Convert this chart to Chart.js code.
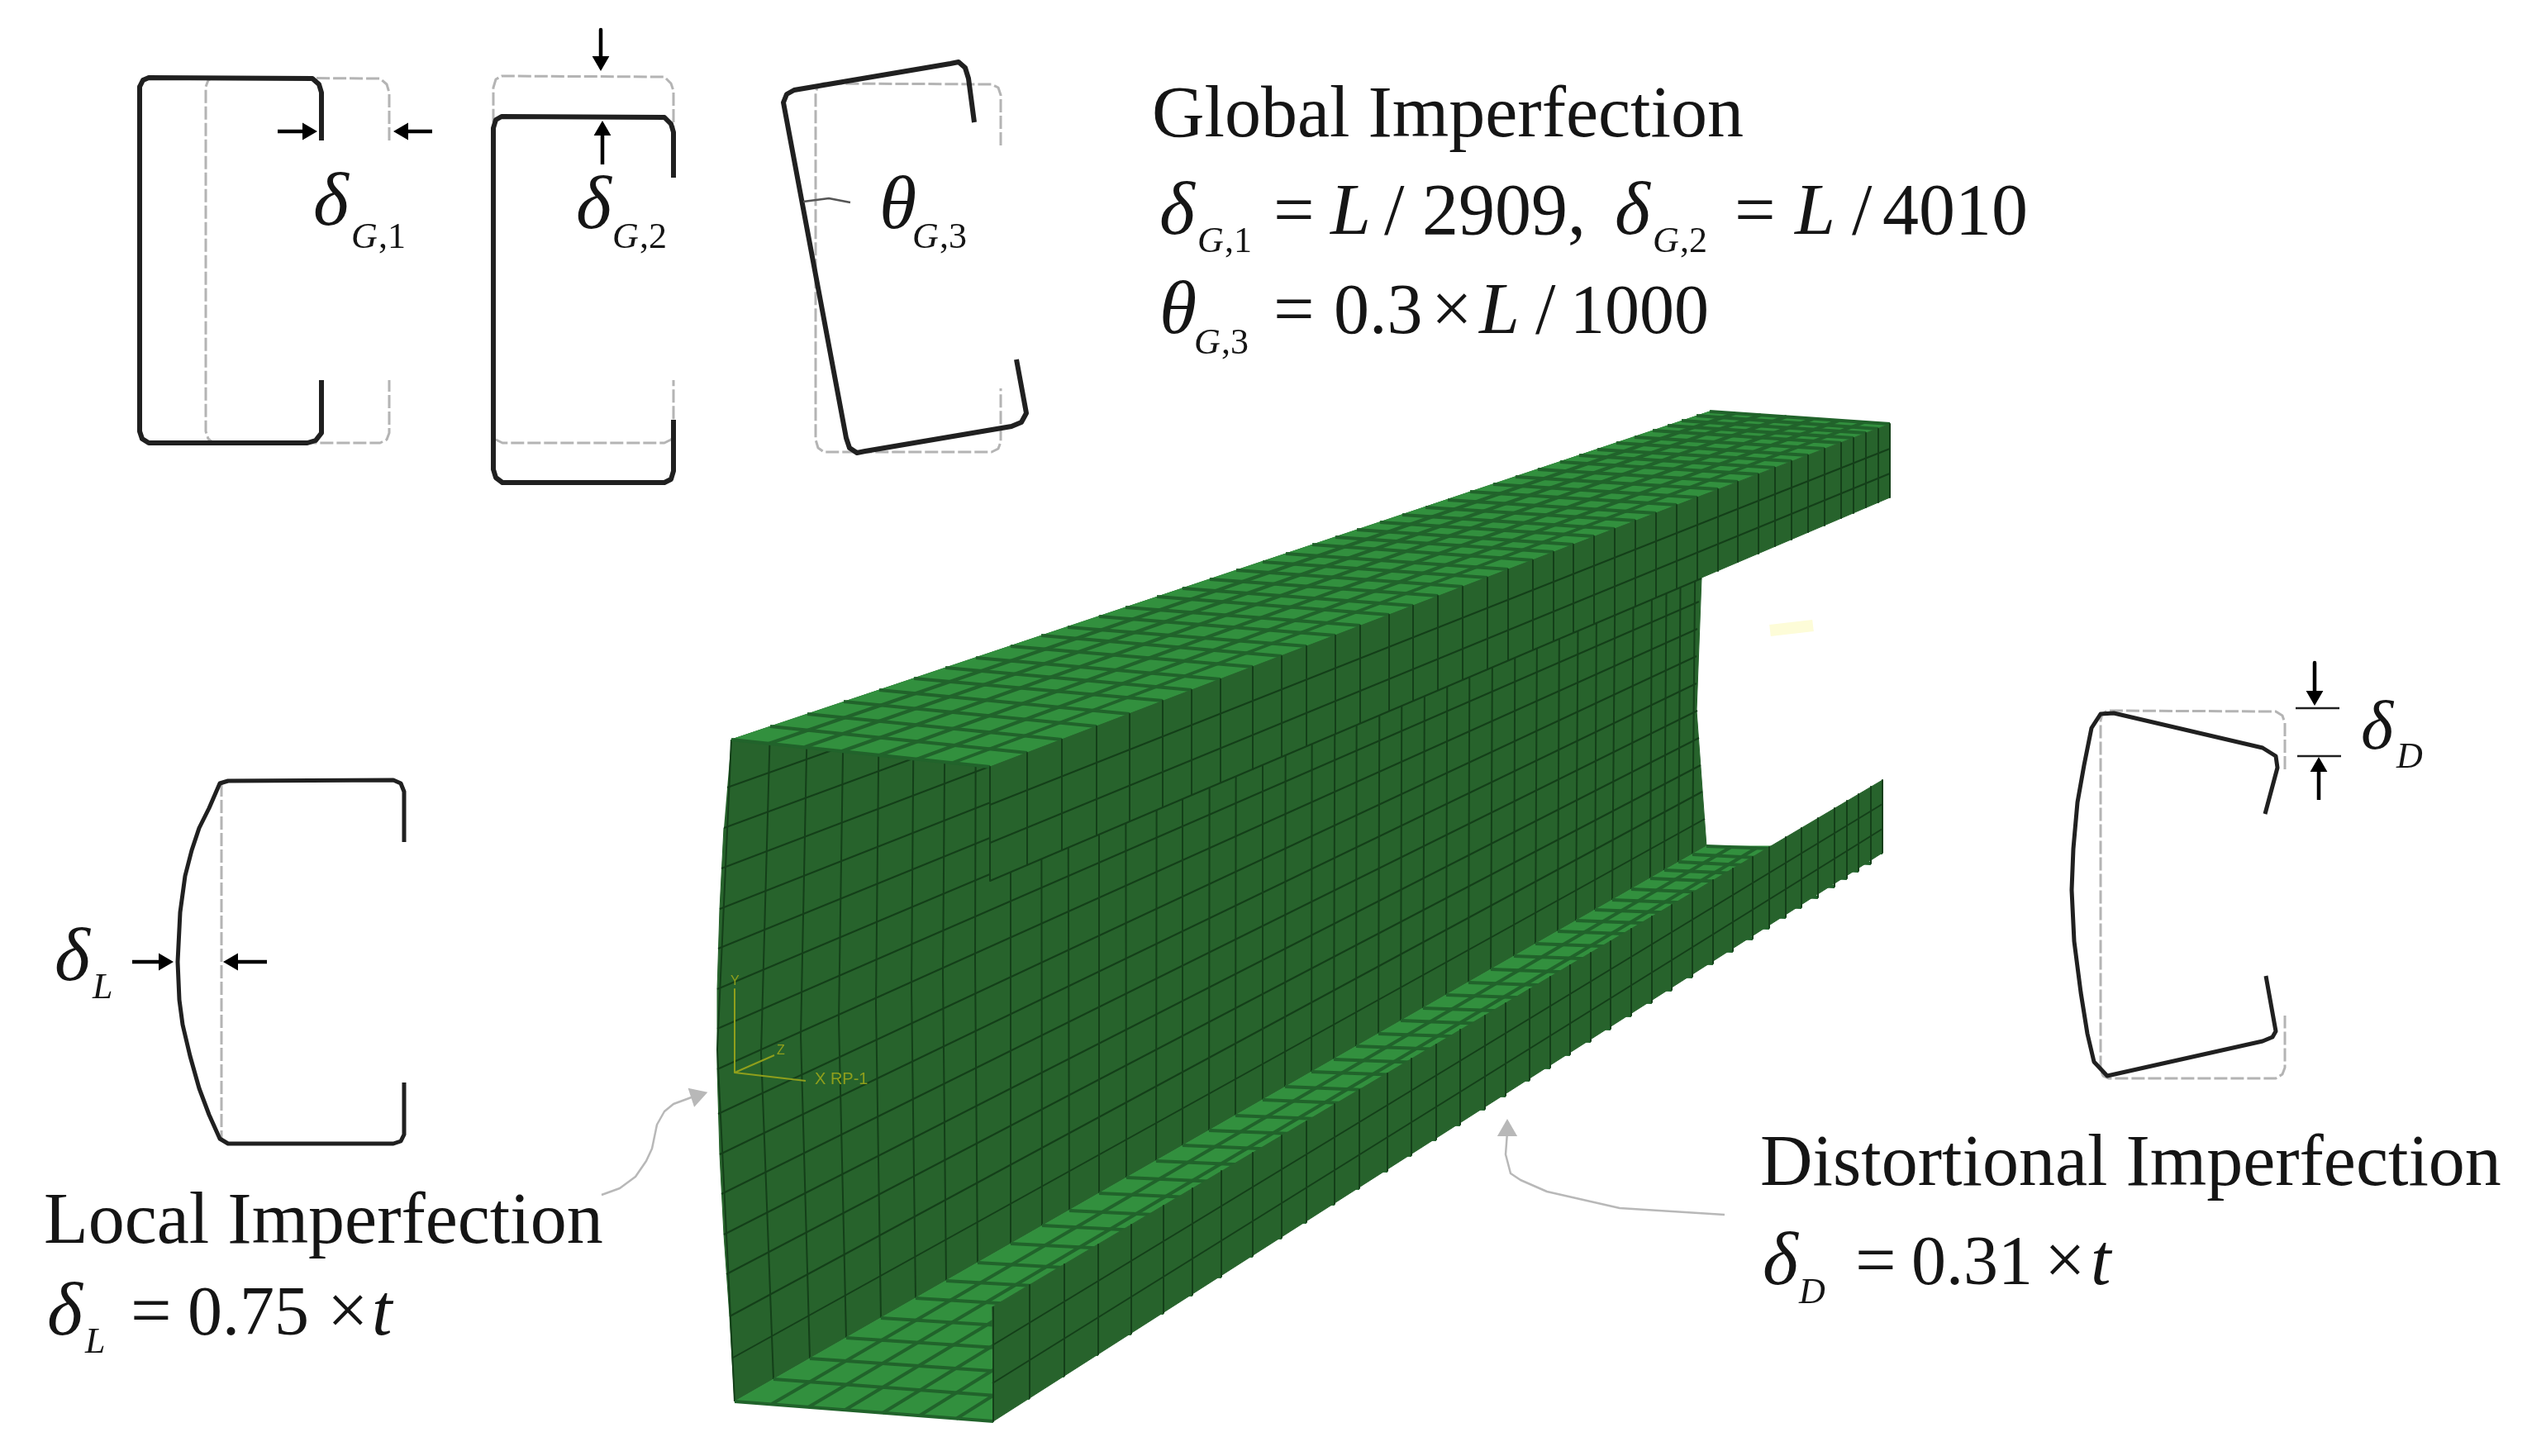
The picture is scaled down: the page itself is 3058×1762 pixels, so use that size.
<!DOCTYPE html>
<html lang="en">
<head>
    <meta charset="UTF-8">
    <title>Imperfection modes</title>
    <style>
        body { margin: 0; background: #fff; }
        canvas { display: block; }
    </style>
</head>
<body>
<canvas id="chart" width="3058" height="1762"></canvas>
<script src="https://cdn.jsdelivr.net/npm/chart.js"></script>
<script>
    // mesh stations, one value per cross line of the beam
    const topOuterX = [885,932,977,1021,1064,1106,1144,1181,1223,1260,1292,1330,1362,1400,1431,1464,1496,1528,1556,1588,1616,1642,1670,1697,1725,1752,1779,1807,1834,1861,1888,1911,1933,1956,1978,2000,2018,2035,2053,2069];
    const topOuterY = [895,879,864,849,835,821,808,796,782,769,759,746,735,722,712,701,690,680,670,659,650,641,632,623,614,605,595,586,577,568,559,551,544,536,529,521,515,509,503,498];
    const topInnerX = [1198,1243,1285,1327,1367,1407,1442,1477,1516,1551,1581,1616,1646,1681,1710,1740,1770,1800,1825,1855,1880,1904,1929,1954,1979,2004,2029,2054,2079,2103,2128,2148,2168,2188,2208,2228,2243,2258,2273,2287];
    const topInnerY = [928,911,895,879,864,848,835,822,807,794,782,769,757,744,733,721,710,699,689,678,668,659,649,640,630,621,611,602,592,583,574,566,558,551,543,536,530,524,519,513];
    const lipLowY = [1066,1047,1029,1011,994,977,962,947,931,916,903,888,875,860,848,835,822,810,799,786,775,765,755,744,733,723,712,701,691,680,670,661,653,644,636,627,621,614,608,602];
    const webFootX = [889,936,980,1024,1066,1108,1145,1183,1223,1261,1294,1330,1363,1399,1431,1463,1495,1528,1555,1587,1614,1641,1668,1695,1722,1750,1777,1804,1832,1858,1885,1907,1930,1951,1974,1997,2014,2031,2048,2065];
    const webFootY = [1696,1669,1644,1619,1595,1571,1550,1528,1505,1483,1465,1444,1425,1405,1386,1368,1350,1331,1315,1297,1282,1266,1251,1235,1220,1204,1189,1173,1157,1142,1127,1114,1101,1089,1076,1063,1053,1043,1034,1024];
    const botLipX = [1202,1246,1288,1329,1369,1408,1443,1478,1516,1551,1581,1615,1645,1679,1708,1738,1767,1797,1822,1851,1876,1900,1925,1949,1974,1999,2023,2048,2073,2097,2121,2141,2161,2180,2200,2220,2235,2249,2264,2278];
    const botLipTopY = [1582,1555,1530,1506,1482,1459,1438,1417,1395,1374,1357,1336,1319,1299,1281,1264,1246,1229,1214,1197,1182,1168,1153,1139,1124,1109,1095,1080,1065,1051,1037,1025,1013,1002,990,978,969,961,952,944];
    const botLipLowY = [1720,1692,1665,1639,1614,1589,1567,1545,1520,1498,1479,1457,1438,1417,1398,1379,1361,1342,1326,1307,1292,1276,1260,1245,1229,1213,1198,1182,1166,1151,1136,1123,1110,1098,1086,1073,1063,1054,1045,1032];

    // the web bows out near the loaded end, so the first cross lines get a middle point
    const webMidX = [868,921,969,1015,1060,1103,1141,1180];
    const webMidY = [1270,1274,1254,1234,1215,1196,1179,1162];

    // long lines of the web, left end to right end
    const webRowLeftX = [880,876,873,871,869,868,868,868,869,871,873,876,879,883,887];
    const webRowLeftY = [953,1002,1051,1100,1148,1197,1245,1294,1348,1397,1445,1494,1542,1593,1643];
    const webRowRightX = [2069,2068,2067,2065,2062,2059,2056,2054,2053,2053,2054,2056,2058,2060,2063];
    const webRowRightY = [531,564,597,630,662,695,728,761,794,827,860,893,926,958,991];

    const topRowNearX = [930,974,1019,1064,1109,1153];
    const topRowNearY = [900,904,909,914,919,923];
    const topRowFarX = [2100,2131,2162,2194,2225,2256];
    const topRowFarY = [500,502,504,507,509,511];
    const botRowNearX = [934,978,1023,1068,1113,1157];
    const botRowNearY = [1699,1703,1706,1710,1713,1717];
    const botRowFarX = [2095,2126,2156,2187,2217,2248];
    const botRowFarY = [1025,1026,1027,1028,1029,1031];
    const lipRowNearY = [974,1020];
    const lipRowFarY = [543,573];
    const botLipRowNearY = [1628,1674];
    const botLipRowFarY = [973,1003];

    // outlines of the beam faces
    const webOutline = [[885,895],[2069,498],[2059,700],[2053,860],[2065,1024],[889,1696],[883,1593],[876,1494],[871,1397],[868,1294],[868,1197],[871,1100],[876,1002]];
    const topFlangeOutline = [[885,895],[2069,498],[2287,513],[1198,928]];
    const topLipOutline = [[1198,928],[2287,513],[2287,602],[1198,1066]];
    const botFlangeOutline = [[889,1696],[2065,1024],[2149,1024],[1200,1582],[1202,1720]];
    const botLipOutline = [[1200,1582],[2278,944],[2278,1032],[1202,1720]];
    const topLipEdge = [[1198,1066],[2059,700]];

    // cross sections, perfect shape in gray and imperfect shape in black
    const sectionOneGray = [[471,170],[471,112],[468,102],[460,95],[258,94],[252,97],[249,105],[249,522],[252,531],[258,536],[460,536],[468,532],[471,524],[471,460]];
    const sectionOneLine = [[389,170],[389,112],[386,102],[378,95],[180,94],[173,97],[169,105],[169,522],[172,531],[180,536],[372,536],[382,533],[389,524],[389,460]];
    const sectionTwoGray = [[815,168],[815,110],[812,101],[804,93],[607,92],[600,96],[597,106],[597,522],[600,532],[608,536],[804,536],[812,532],[815,525],[815,460]];
    const sectionTwoLine = [[815,215],[815,160],[812,150],[804,142],[607,141],[600,145],[597,155],[597,568],[600,578],[608,584],[804,584],[812,580],[815,570],[815,508]];
    const sectionThreeGray = [[1211,176],[1211,115],[1208,106],[1200,102],[996,101],[990,104],[987,112],[987,532],[990,542],[997,547],[1200,547],[1208,543],[1211,535],[1211,470]];
    const sectionThreeLine = [[1179,148],[1172,95],[1168,82],[1160,75],[1150,77],[961,109],[952,114],[948,124],[1024,530],[1028,542],[1037,548],[1047,546],[1224,516],[1236,511],[1242,500],[1230,435]];
    const thetaTick = [[972,244],[1003,240],[1029,245]];
    const localGray = [[268,948],[268,1378]];
    const localLine = [[489,1019],[489,958],[485,948],[476,944],[276,945],[266,948],[253,978],[241,1002],[232,1029],[224,1060],[218,1104],[215,1164],[217,1210],[221,1240],[230,1278],[241,1317],[253,1349],[266,1378],[276,1384],[476,1384],[485,1381],[489,1373],[489,1310]];
    const distGray = [[2765,931],[2765,875],[2762,866],[2754,861],[2550,860],[2544,864],[2542,872],[2542,1295],[2545,1302],[2552,1305],[2754,1305],[2762,1300],[2765,1292],[2765,1229]];
    const distLine = [[2741,985],[2756,929],[2754,915],[2738,905],[2558,863],[2542,864],[2531,881],[2522,926],[2514,971],[2509,1027],[2507,1077],[2510,1139],[2518,1201],[2526,1251],[2534,1285],[2550,1302],[2738,1260],[2750,1255],[2754,1248],[2742,1181]];
    const distTicks = [[2778,857],[2831,857],null,[2780,915],[2833,915]];

    // arrows: tail, head centre, head rotation
    const blackArrows = [
        [336,159,372,159,90], [523,159,488,159,270],
        [727,36,727,74,180], [729,199,729,158,0],
        [160,1164,198,1164,90], [323,1164,282,1164,270],
        [2801,802,2801,842,180], [2806,968,2806,928,0]
    ];
    const calloutLocal = [[728,1446],[750,1438],[769,1424],[782,1405],[789,1390],[795,1361],[804,1345],[815,1336],[842,1326]];
    const calloutDist = [[2087,1470],[1960,1462],[1872,1442],[1840,1428],[1828,1420],[1822,1397],[1824,1370]];
    const grayArrowHeads = [[843,1326,72],[1824,1368,0]];

    // abaqus triad and its labels
    const triad = [[889,1197],[889,1298],[975,1308],null,[889,1298],[937,1277]];
    const glowMark = [[2142,763],[2194,757]];

    const normalText = 'normal';
    const italicText = 'italic';
    const textColor = '#151515';
    const texts = [
        ['Global Imperfection',1394,165,88,normalText],
        ['δ',1403,283,92,italicText], ['G',1449,305,44,italicText], [',1',1482,305,44,normalText],
        ['=',1541,283,88,normalText], ['L',1610,283,88,italicText], ['/',1675,283,88,normalText], ['2909,',1721,283,88,normalText],
        ['δ',1954,283,92,italicText], ['G',2000,305,44,italicText], [',2',2033,305,44,normalText],
        ['=',2099,283,88,normalText], ['L',2172,283,88,italicText], ['/',2241,283,88,normalText], ['4010',2278,283,88,normalText],
        ['θ',1403,403,92,italicText], ['G',1445,428,44,italicText], [',3',1478,428,44,normalText],
        ['=',1541,403,88,normalText], ['0.3',1614,403,86,normalText], ['×',1732,403,88,normalText], ['L',1790,403,88,italicText], ['/',1858,403,88,normalText], ['1000',1900,403,84,normalText],
        ['δ',379,272,92,italicText], ['G',425,300,44,italicText], [',1',458,300,44,normalText],
        ['δ',697,276,92,italicText], ['G',741,300,44,italicText], [',2',774,300,44,normalText],
        ['θ',1064,276,92,italicText], ['G',1104,300,44,italicText], [',3',1137,300,44,normalText],
        ['δ',66,1186,92,italicText], ['L',112,1208,44,italicText],
        ['Local Imperfection',53,1504,88,normalText],
        ['δ',57,1615,92,italicText], ['L',103,1637,44,italicText],
        ['=',158,1615,88,normalText], ['0.75',227,1615,84,normalText], ['×',396,1615,88,normalText], ['t',450,1615,88,italicText],
        ['δ',2857,906,84,italicText], ['D',2900,929,44,italicText],
        ['Distortional Imperfection',2130,1434,88,normalText],
        ['δ',2133,1554,92,italicText], ['D',2177,1577,44,italicText],
        ['=',2245,1554,88,normalText], ['0.31',2313,1554,84,normalText], ['×',2474,1554,88,normalText], ['t',2530,1554,88,italicText]
    ];
    const triadTexts = [['Y',884,1192,16], ['Z',940,1276,16], ['X RP-1',986,1312,20]];

    const webGreen = '#27632c';
    const flangeGreen = '#32903e';
    const webMesh = '#143f19';
    const flangeMesh = '#21632b';
    const sectionBlack = '#202020';
    const sectionGray = '#b4b4b4';
    const calloutGray = '#b8b8b8';
    const triadGreen = '#8f9f1c';

    const toPoints = list => list.map(p => p ? { x: p[0], y: p[1] } : { x: null, y: null });

    // joins separate strokes into one line with gaps between them
    function strokes(lines) {
        const out = [];
        lines.forEach(line => {
            line.forEach(p => out.push({ x: p[0], y: p[1] }));
            out.push({ x: null, y: null });
        });
        return out;
    }

    const polygon = (list, color) => ({
        data: toPoints(list), showLine: true, fill: 'shape', backgroundColor: color,
        borderColor: color, borderWidth: 1, pointRadius: 0
    });
    const lineSet = (points, color, width, dash) => ({
        data: points, showLine: true, fill: false, borderColor: color,
        borderWidth: width, borderDash: dash || [], pointRadius: 0,
        borderJoinStyle: 'round', borderCapStyle: 'butt', spanGaps: false
    });

    const webCross = topOuterX.slice(0, 39).map((x, i) => {
        const line = [[x, topOuterY[i]]];
        if (i < webMidX.length) line.push([webMidX[i], webMidY[i]]);
        line.push([webFootX[i], webFootY[i]]);
        return line;
    });
    const webRows = webRowLeftX.map((x, i) => [[x, webRowLeftY[i]], [webRowRightX[i], webRowRightY[i]]]);
    const topCross = topOuterX.map((x, i) => [[x, topOuterY[i]], [topInnerX[i], topInnerY[i]]]);
    const topRows = topRowNearX.map((x, i) => [[x, topRowNearY[i]], [topRowFarX[i], topRowFarY[i]]]);
    const lipCross = topInnerX.map((x, i) => [[x, topInnerY[i]], [x, lipLowY[i]]]);
    const lipRows = lipRowNearY.map((y, i) => [[1198, y], [2287, lipRowFarY[i]]]);
    const botCross = webFootX.map((x, i) => [[x, webFootY[i]], [botLipX[i], botLipLowY[i]]]);
    const botRows = botRowNearX.map((x, i) => [[x, botRowNearY[i]], [botRowFarX[i], botRowFarY[i]]]);
    const botLipCross = botLipX.map((x, i) => [[x, botLipTopY[i]], [x, botLipLowY[i]]]);
    const botLipRows = botLipRowNearY.map((y, i) => [[1201, y], [2278, botLipRowFarY[i]]]);

    // listed from back to front, reversed below because Chart.js paints the first dataset last
    const layers = [
        polygon(webOutline, webGreen),
        lineSet(strokes(webRows), webMesh, 2),
        lineSet(strokes(webCross), webMesh, 2),
        lineSet(toPoints(triad), triadGreen, 2),
        polygon(botFlangeOutline, flangeGreen),
        lineSet(strokes(botRows), flangeMesh, 4),
        lineSet(strokes(botCross), flangeMesh, 4),
        polygon(botLipOutline, webGreen),
        lineSet(strokes(botLipRows), webMesh, 2),
        lineSet(strokes(botLipCross), webMesh, 2),
        polygon(topFlangeOutline, flangeGreen),
        lineSet(strokes(topRows), flangeMesh, 4),
        lineSet(strokes(topCross), flangeMesh, 4),
        polygon(topLipOutline, webGreen),
        lineSet(strokes(lipRows), webMesh, 2),
        lineSet(strokes(lipCross), webMesh, 2),
        lineSet(toPoints(topLipEdge), webMesh, 2),
        lineSet(toPoints(glowMark), '#fdfcd8', 14),
        lineSet(toPoints(sectionOneGray), sectionGray, 3, [16, 4]),
        lineSet(toPoints(sectionTwoGray), sectionGray, 3, [16, 4]),
        lineSet(toPoints(sectionThreeGray), sectionGray, 3, [16, 4]),
        lineSet(toPoints(localGray), sectionGray, 3, [16, 4]),
        lineSet(toPoints(distGray), sectionGray, 3, [16, 4]),
        lineSet(toPoints(sectionOneLine), sectionBlack, 6),
        lineSet(toPoints(sectionTwoLine), sectionBlack, 6),
        lineSet(toPoints(sectionThreeLine), sectionBlack, 6),
        lineSet(toPoints(localLine), sectionBlack, 5),
        lineSet(toPoints(distLine), sectionBlack, 5),
        lineSet(toPoints(thetaTick), '#555555', 2.5),
        lineSet(toPoints(distTicks), sectionBlack, 2.5),
        lineSet(toPoints(calloutLocal), calloutGray, 2.5),
        lineSet(toPoints(calloutDist), calloutGray, 2.5),
        lineSet(strokes(blackArrows.map(a => [[a[0], a[1]], [a[2], a[3]]])), '#000000', 4.5)
    ];
    blackArrows.forEach(a => layers.push({
        data: [{ x: a[2], y: a[3] }], pointStyle: 'triangle', pointRadius: 12,
        pointRotation: a[4], pointBackgroundColor: '#000000', pointBorderWidth: 0
    }));
    grayArrowHeads.forEach(a => layers.push({
        data: [{ x: a[0], y: a[1] }], pointStyle: 'triangle', pointRadius: 14,
        pointRotation: a[2], pointBackgroundColor: calloutGray, pointBorderWidth: 0
    }));

    const textPlugin = {
        id: 'diagramText',
        afterDatasetsDraw(chart) {
            const ctx = chart.ctx;
            const xs = chart.scales.x;
            const ys = chart.scales.y;
            ctx.save();
            ctx.textBaseline = 'alphabetic';
            ctx.textAlign = 'left';
            ctx.fillStyle = textColor;
            texts.forEach(t => {
                ctx.font = `${t[4]} ${t[3]}px "Liberation Serif"`;
                ctx.fillText(t[0], xs.getPixelForValue(t[1]), ys.getPixelForValue(t[2]));
            });
            ctx.fillStyle = triadGreen;
            triadTexts.forEach(t => {
                ctx.font = `${t[3]}px "Liberation Sans"`;
                ctx.fillText(t[0], xs.getPixelForValue(t[1]), ys.getPixelForValue(t[2]));
            });
            ctx.restore();
        }
    };

    new Chart(document.getElementById('chart').getContext('2d'), {
        type: 'scatter',
        data: { datasets: layers.reverse() },
        options: {
            responsive: false,
            animation: false,
            events: [],
            // autoPadding would inset the scales by the largest point radius
            layout: { padding: 0, autoPadding: false },
            scales: {
                x: { type: 'linear', min: 0, max: 3058, display: false },
                y: { type: 'linear', min: 0, max: 1762, reverse: true, display: false }
            },
            plugins: { legend: { display: false }, tooltip: { enabled: false } }
        },
        plugins: [textPlugin]
    });
</script>
</body>
</html>
